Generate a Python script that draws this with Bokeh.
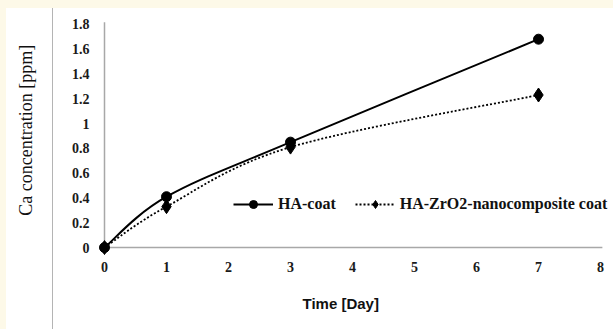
import numpy as np
from bokeh.plotting import figure
from bokeh.models import ColumnDataSource, FixedTicker, Legend, LegendItem, Title
from bokeh.embed import file_html
from bokeh.resources import INLINE

# ---- data ----
days = [0, 1, 3, 7]
ha_coat = [0.0, 0.41, 0.85, 1.68]
ha_zro2 = [0.0, 0.33, 0.81, 1.23]
x_ticks = [0, 1, 2, 3, 4, 5, 6, 7, 8]
y_ticks = [0, 0.2, 0.4, 0.6, 0.8, 1.0, 1.2, 1.4, 1.6, 1.8]
y_tick_labels = ["0", "0.2", "0.4", "0.6", "0.8", "1", "1.2", "1.4", "1.6", "1.8"]
series_names = ["HA-coat", "HA-ZrO2-nanocomposite coat"]
x_title = "Time [Day]"
y_title = "Ca  concentration [ppm]"

CREAM = "#fdf9e8"
SERIF = "Liberation Serif"
AXIS_GREY = "#a8a8a8"


def smooth_segments(xs, ys):
    """Bezier control points (Excel-like smoothing) built from the data points."""
    xs = np.asarray(xs, float)
    ys = np.asarray(ys, float)
    n = len(xs)
    d = dict(x0=[], y0=[], x1=[], y1=[], cx0=[], cy0=[], cx1=[], cy1=[])
    for i in range(n - 1):
        pm = max(i - 1, 0)
        pp = min(i + 2, n - 1)
        d["x0"].append(xs[i]); d["y0"].append(ys[i])
        d["x1"].append(xs[i + 1]); d["y1"].append(ys[i + 1])
        d["cx0"].append(xs[i] + (xs[i + 1] - xs[pm]) / 6)
        d["cy0"].append(ys[i] + (ys[i + 1] - ys[pm]) / 6)
        d["cx1"].append(xs[i + 1] - (xs[pp] - xs[i]) / 6)
        d["cy1"].append(ys[i + 1] - (ys[pp] - ys[i]) / 6)
    return ColumnDataSource(d)


X_AXIS_END = 8.03
Y_AXIS_END = 1.816
p = figure(
    width=613, height=329,
    x_range=(-0.1613, 8.161), y_range=(-0.064, 1.992),
    min_border_left=94, min_border_right=3,
    min_border_top=0, min_border_bottom=72,
    output_backend="svg", toolbar_location=None,
)
p.border_fill_alpha = 0
p.background_fill_alpha = 0
p.outline_line_color = None
p.styles = {
    "background": (
        f"linear-gradient(to bottom, {CREAM} 0px, {CREAM} 8px, rgba(255,255,255,0) 8px), "
        f"linear-gradient(to right, {CREAM} 0px, {CREAM} 6px, #ffffff 6px, #ffffff 52px, "
        "#b4b4b4 52px, #b4b4b4 53px, #ffffff 53px)"
    )
}
p.xgrid.visible = False
p.ygrid.visible = False

for ax in (p.xaxis[0], p.yaxis[0]):
    ax.axis_line_color = None
    ax.major_tick_line_color = None
    ax.minor_tick_line_color = None
    ax.major_tick_out = 0
    ax.major_tick_in = 0
    ax.minor_tick_out = 0
    ax.minor_tick_in = 0
    ax.major_label_text_font = SERIF
    ax.major_label_text_font_style = "bold"
    ax.major_label_text_font_size = "14px"
    ax.major_label_text_color = "#1a1a1a"
p.xaxis.major_label_standoff = 6
p.yaxis.major_label_standoff = 5

p.xaxis.ticker = FixedTicker(ticks=x_ticks)
p.yaxis.ticker = FixedTicker(ticks=y_ticks)
p.yaxis.major_label_overrides = {t: l for t, l in zip(y_ticks, y_tick_labels)}

p.yaxis.axis_label = y_title
p.yaxis.axis_label_text_font = SERIF
p.yaxis.axis_label_text_font_style = "normal"
p.yaxis.axis_label_text_font_size = "18px"
p.yaxis.axis_label_text_color = "#111111"
p.yaxis.axis_label_standoff = 33

# axis lines through the origin
p.segment(x0=[0, 0], y0=[0, 0], x1=[X_AXIS_END, 0], y1=[0, Y_AXIS_END],
          line_color=AXIS_GREY, line_width=1.5)

src1 = smooth_segments(days, ha_coat)
src2 = smooth_segments(days, ha_zro2)

b1 = p.bezier(x0="x0", y0="y0", x1="x1", y1="y1", cx0="cx0", cy0="cy0", cx1="cx1", cy1="cy1",
              source=src1, line_color="black", line_width=2)
b2 = p.bezier(x0="x0", y0="y0", x1="x1", y1="y1", cx0="cx0", cy0="cy0", cx1="cx1", cy1="cy1",
              source=src2, line_color="black", line_width=1.8, line_dash="2 2")
s2 = p.scatter(days, ha_zro2, marker="diamond", size=14, color="black")
s1 = p.scatter(days, ha_coat, marker="circle", size=10, color="black")

legend = Legend(
    items=[LegendItem(label=series_names[0], renderers=[b1, s1]),
           LegendItem(label=series_names[1], renderers=[b2, s2])],
    orientation="horizontal", location=(139, 41),
    glyph_width=40, glyph_height=20, label_standoff=5, spacing=19,
    padding=0, margin=0,
    border_line_color=None, background_fill_alpha=0,
    label_text_font=SERIF, label_text_font_style="bold",
    label_text_font_size="16px", label_text_color="#111111",
)
p.add_layout(legend)

p.add_layout(Title(text=x_title, align="left", offset=208, standoff=36,
                   text_font="Liberation Sans", text_font_style="bold",
                   text_font_size="15px", text_color="#111111"), "below")

open("out.html", "w").write(file_html(p, INLINE))
